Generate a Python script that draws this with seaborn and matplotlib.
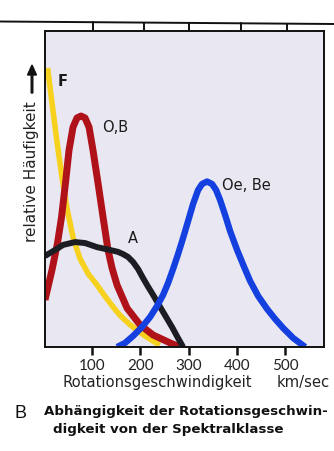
import matplotlib
matplotlib.use("Agg")
import matplotlib.pyplot as plt
import seaborn as sns
from matplotlib.lines import Line2D
from matplotlib.patches import FancyArrow

# Rotational velocity distributions (km/sec vs. relative frequency) per spectral class
f_v = [8, 17, 27, 38, 48, 61, 75, 92, 110, 127, 143, 158, 179, 205, 225, 240]
f_y = [0.883, 0.775, 0.655, 0.535, 0.44, 0.345, 0.28, 0.232, 0.197, 0.16, 0.128, 0.1, 0.07, 0.04, 0.02, 0.006]

ob_v = [2.7, 17.2, 28.6, 36.9, 45.1, 52.4, 60.7, 69, 77.2, 85.5, 93.8, 102, 112.4, 122.8, 133.1,
        141.4, 151.8, 172.5, 199.4, 226.3, 261.5, 282.2]
ob_y = [0.149, 0.244, 0.329, 0.411, 0.519, 0.623, 0.696, 0.725, 0.731, 0.725, 0.696, 0.623, 0.519,
        0.411, 0.307, 0.25, 0.196, 0.123, 0.07, 0.038, 0.013, 0.0]

a_v = [2.7, 23.4, 40, 64.8, 85.5, 110.4, 137.3, 153.8, 164.2, 174.5, 184.9, 195.2, 205.6, 215.9,
       226.3, 236.6, 247, 265.6, 278, 288.4]
a_y = [0.288, 0.307, 0.323, 0.332, 0.329, 0.316, 0.307, 0.301, 0.294, 0.285, 0.269, 0.247, 0.218,
       0.191, 0.165, 0.138, 0.111, 0.063, 0.028, 0.0]

oebe_v = [151.8, 168.3, 184.9, 203.5, 220.1, 234.6, 247.0, 257.4, 267.7, 278.1, 288.4, 298.8, 309.1,
          319.5, 327.7, 338.0, 348.4, 356.7, 365.0, 375.4, 385.7, 400.2, 414.7, 427.1, 443.7, 462.3,
          478.9, 495.4, 516.1, 541.0]
oebe_y = [0.0, 0.0127, 0.0348, 0.0633, 0.0949, 0.1297, 0.1646, 0.2025, 0.2468, 0.2943, 0.3449,
          0.3987, 0.4525, 0.4968, 0.5158, 0.5237, 0.5158, 0.4968, 0.4652, 0.4177, 0.367, 0.307,
          0.2532, 0.2089, 0.1614, 0.1203, 0.0886, 0.0601, 0.0285, 0.0]

x_ticks = [100, 200, 300, 400, 500]
x_tick_labels = ["100", "200", "300", "400", "500"]

sns.set_style("white")
plt.rcParams["font.family"] = ["Lato", "DejaVu Sans"]

W, H = 334, 451
fig = plt.figure(figsize=(W / 100, H / 100), dpi=100)
fig.patch.set_facecolor("white")
ax = fig.add_axes([45 / W, (H - 347) / H, (324 - 45) / W, (347 - 31) / H])
ax.set_facecolor("#E9E7F2")

ax.set_xlim(2.7, 580)
ax.set_ylim(0, 1)

common = dict(ax=ax, sort=False, estimator=None, solid_joinstyle="round", solid_capstyle="butt")
sns.lineplot(x=f_v, y=f_y, color="#F6D21E", lw=4.0, **common)
sns.lineplot(x=ob_v, y=ob_y, color="#B0121A", lw=5.0, **common)
sns.lineplot(x=a_v, y=a_y, color="#1B1D22", lw=4.3, **common)
sns.lineplot(x=oebe_v, y=oebe_y, color="#1440E0", lw=4.6, **common)

for sp in ax.spines.values():
    sp.set_color("#111111")
    sp.set_linewidth(1.4)

ax.set_xticks(x_ticks)
ax.set_xticklabels(x_tick_labels)
ax.set_yticks([])
ax.tick_params(axis="x", direction="out", length=6, width=1.8, color="#111111",
               labelsize=11, pad=3, labelcolor="#222222", bottom=True)
ax.set_xlabel("")
ax.set_ylabel("")

lab = dict(fontsize=10.5, color="#1a1a1a", family=["DejaVu Sans"])
ax.text(40, 0.84, "F", ha="center", va="center", fontweight="bold", **lab)
ax.text(121, 0.696, "O,B", ha="left", va="center", **lab)
ax.text(369, 0.51, "Oe, Be", ha="left", va="center", **lab)
ax.text(185, 0.342, "A", ha="center", va="center", **lab)

# y axis caption with upward arrow
fig.text(32 / W, 1 - 172 / H, "relative Häufigkeit", rotation=90, ha="center", va="center",
         fontsize=11, color="#222222", family=["DejaVu Sans"])
fig.add_artist(FancyArrow(32 / W, 1 - 93 / H, 0, 28 / H, width=1.6 / W, head_width=9 / W,
                          head_length=10 / H, length_includes_head=True,
                          transform=fig.transFigure, color="#111111"))

# axis titles below
fig.text(62 / W, 1 - 383 / H, "Rotationsgeschwindigkeit", ha="left", va="center",
         fontsize=10.6, color="#222222", family=["DejaVu Sans"])
fig.text(277 / W, 1 - 383 / H, "km/sec", ha="left", va="center", fontsize=10.6,
         color="#222222", family=["DejaVu Sans"])

# frame edge of the panel above, with its ticks
fig.add_artist(Line2D([0, 1], [1 - 21.5 / H, 1 - 24 / H], transform=fig.transFigure,
                      color="#111111", lw=1.4))
for px in [93, 144, 189, 241, 287]:
    yt = 1 - (21.5 + 2.5 * px / W) / H
    fig.add_artist(Line2D([px / W, px / W], [yt, 1 - 30 / H], transform=fig.transFigure,
                          color="#111111", lw=1.4))

# caption
fig.text(15 / W, 1 - 413 / H, "B", ha="left", va="center", fontsize=13, color="#111111",
         family=["Liberation Sans", "DejaVu Sans"])
fig.text(44 / W, 1 - 412 / H, "Abhängigkeit der Rotationsgeschwin-", ha="left", va="center",
         fontsize=9.6, fontweight="bold", color="#111111", family=["DejaVu Sans"])
fig.text(53 / W, 1 - 429 / H, "digkeit von der Spektralklasse", ha="left", va="center",
         fontsize=9.6, fontweight="bold", color="#111111", family=["DejaVu Sans"])

fig.savefig("out.png", dpi=100, facecolor="white")
